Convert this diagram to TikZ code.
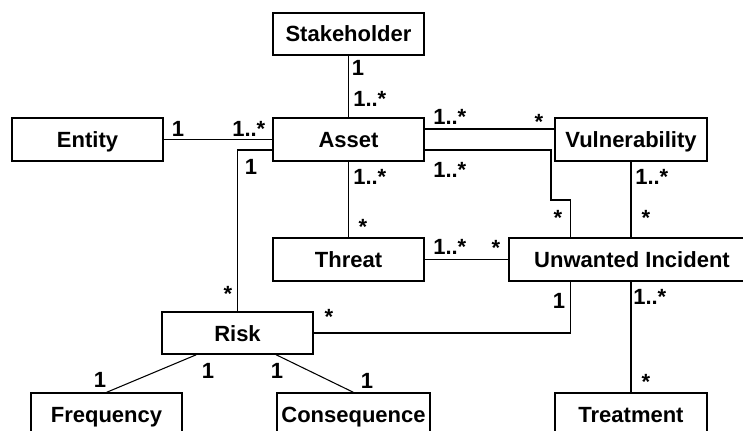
\documentclass[tikz,border=0pt]{standalone}
\usepackage{fontspec}
\setmainfont{Liberation Sans}
\usetikzlibrary{calc}

\tikzset{
  umlbox/.style={draw, line width=1.2pt, rectangle, inner sep=0pt,
    minimum width=113.25pt, minimum height=32pt,
    text height=14pt, text depth=2pt,
    font=\fontsize{16.5}{18}\selectfont\bfseries},
  mult/.style={inner sep=0pt, font=\fontsize{16.5}{18}\selectfont\bfseries},
  assoc/.style={line width=0.8pt}
}

\begin{document}
\begin{tikzpicture}[x=0.75pt,y=0.75pt,yscale=-1,xscale=1]
    \useasboundingbox (0,0) rectangle (743,431);
    \clip (0,0) rectangle (743,431);

    %Shape: Rectangle [Stakeholder]
    \node [umlbox, minimum height=31.5pt] (Stakeholder) at (348.5,34) {Stakeholder};
    %Shape: Rectangle [Entity]
    \node [umlbox] (Entity) at (87.5,139.5) {Entity};
    %Shape: Rectangle [Asset]
    \node [umlbox] (Asset) at (348.5,139.5) {Asset};
    %Shape: Rectangle [Vulnerability]
    \node [umlbox, minimum width=114pt] (Vul) at (631,139.5) {Vulnerability};
    %Shape: Rectangle [Threat]
    \node [umlbox] (Threat) at (348.5,259.5) {Threat};
    %Shape: Rectangle [Unwanted Incident]
    \node [umlbox, minimum width=184.5pt] (UI) at (632,259.5) {Unwanted Incident};
    %Shape: Rectangle [Risk]
    \node [umlbox, minimum height=31.5pt] (Risk) at (237.5,333) {Risk};
    %Shape: Rectangle [Frequency]
    \node [umlbox] (Frequency) at (106.5,414.5) {Frequency};
    %Shape: Rectangle [Consequence]
    \node [umlbox, minimum width=114.75pt] (Consequence) at (353.5,414.5) {Consequence};
    %Shape: Rectangle [Treatment]
    \node [umlbox, minimum width=114pt] (Treatment) at (631,414.5) {Treatment};

    \coordinate (kink) at (551,200);

    %Straight Lines
    \draw [assoc] (Stakeholder) -- (Asset);
    \draw [assoc] (Entity) -- (Asset);
    \draw [assoc] ($(Asset.west)+(0,10.5)$) -| (Risk.north);
    \draw [assoc] (Asset) -- (Threat);
    \draw [assoc] ($(Asset.east)+(0,-10.5)$) -- ($(Vul.west)+(0,-10.5)$);
    \draw [assoc] ($(Asset.east)+(0,10.5)$) -| (kink) -| ($(UI.north west)+(62,0)$);
    \draw [assoc] (Vul.south) -- (Vul.south |- UI.north);
    \draw [assoc] (Threat) -- (UI);
    \draw [assoc] (Risk.east) -| ($(UI.south west)+(62,0)$);
    \draw [assoc] (Treatment.north |- UI.south) -- (Treatment.north);
    \draw [assoc] ($(Risk.south west)+(35,0)$) -- (Frequency.north);
    \draw [assoc] ($(Risk.south west)+(115,0)$) -- (Consequence.north);

    % Text Node
    \node [mult, anchor=base] (sa1) at (358,76) {1};
    \node [mult, anchor=base west] (sa2) at (353,107) {1..*};
    % Text Node
    \node [mult, anchor=base] (ea1) at (178,137) {1};
    \node [mult, anchor=base west] (ea2) at (232,137) {1..*};
    % Text Node
    \node [mult, anchor=base] (ar1) at (251,175) {1};
    \node [mult, anchor=base] (ar2) at (228,301) {*};
    % Text Node
    \node [mult, anchor=base west] (at1) at (353,185) {1..*};
    \node [mult, anchor=base] (at2) at (363,234) {*};
    % Text Node
    \node [mult, anchor=base west] (av1) at (433,125) {1..*};
    \node [mult, anchor=base] (av2) at (539,130) {*};
    % Text Node
    \node [mult, anchor=base west] (au1) at (433,178) {1..*};
    \node [mult, anchor=base] (au2) at (558,226) {*};
    % Text Node
    \node [mult, anchor=base west] (vu1) at (635,185) {1..*};
    \node [mult, anchor=base] (vu2) at (646,226) {*};
    % Text Node
    \node [mult, anchor=base west] (tu1) at (433,255) {1..*};
    \node [mult, anchor=base] (tu2) at (496,256) {*};
    % Text Node
    \node [mult, anchor=base] (ru1) at (329,324) {*};
    \node [mult, anchor=base] (ru2) at (559,308) {1};
    % Text Node
    \node [mult, anchor=base west] (ut1) at (633,305) {1..*};
    \node [mult, anchor=base] (ut2) at (646,389) {*};
    % Text Node
    \node [mult, anchor=base] (rf1) at (208,378) {1};
    \node [mult, anchor=base] (rf2) at (100,387) {1};
    % Text Node
    \node [mult, anchor=base] (rc1) at (277,378) {1};
    \node [mult, anchor=base] (rc2) at (367,388) {1};
\end{tikzpicture}
\end{document}
